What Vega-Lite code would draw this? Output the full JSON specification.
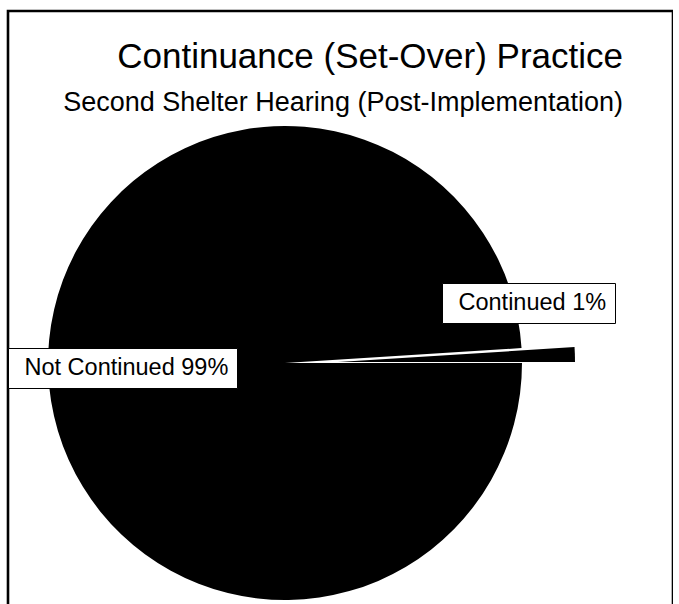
{
  "$schema": "https://vega.github.io/schema/vega-lite/v6.json",
  "width": 665,
  "height": 706,
  "autosize": "none",
  "padding": {"left": 8, "top": 11, "right": 0, "bottom": 0},
  "background": "white",
  "config": {
    "view": {"stroke": null},
    "font": "Liberation Sans",
    "legend": {
      "orient": "none",
      "labelFont": "Liberation Sans",
      "labelFontSize": 23.5,
      "labelColor": "black",
      "labelLimit": 400,
      "symbolSize": 1,
      "symbolOpacity": 0,
      "symbolStrokeWidth": 0,
      "labelOffset": -15,
      "padding": 8,
      "fillColor": "white",
      "strokeColor": "black"
    }
  },
  "title": {
    "text": "Continuance (Set-Over) Practice",
    "subtitle": "Second Shelter Hearing (Post-Implementation)",
    "orient": "top",
    "anchor": "end",
    "frame": "group",
    "offset": -106,
    "dx": -50,
    "font": "Liberation Sans",
    "fontSize": 35,
    "fontWeight": "normal",
    "color": "black",
    "subtitleFont": "Liberation Sans",
    "subtitleFontSize": 27,
    "subtitleColor": "black",
    "subtitlePadding": 15
  },
  "data": {
    "values": [
      {"category": "Continued", "value": 1},
      {"category": "Not Continued", "value": 99}
    ]
  },
  "layer": [
    {
      "data": {"values": [{}]},
      "mark": {"type": "rect", "fill": "white", "fillOpacity": 0, "stroke": "black", "strokeWidth": 2.6},
      "encoding": {}
    },
    {
      "transform": [
        {"stack": "value", "groupby": [], "sort": [{"field": "category", "order": "ascending"}], "as": ["start", "end"]},
        {"calculate": "datum.category + ' ' + datum.value + '%'", "as": "label"},
        {"filter": "datum.category === 'Not Continued'"}
      ],
      "mark": {"type": "arc", "radius": 237, "xOffset": -55.5, "yOffset": -1},
      "encoding": {
        "theta": {"field": "start", "type": "quantitative", "scale": {"domain": [0, 100], "range": [1.50796, 7.79115]}},
        "theta2": {"field": "end"},
        "fill": {
          "field": "label",
          "type": "nominal",
          "scale": {"range": ["black"]},
          "legend": {"title": null, "legendX": 0, "legendY": 337}
        }
      }
    },
    {
      "transform": [
        {"stack": "value", "groupby": [], "sort": [{"field": "category", "order": "ascending"}], "as": ["start", "end"]},
        {"calculate": "datum.category + ' ' + datum.value + '%'", "as": "label"},
        {"filter": "datum.category === 'Continued'"}
      ],
      "mark": {"type": "arc", "radius": 237, "xOffset": -2.5, "yOffset": -2},
      "encoding": {
        "theta": {"field": "start", "type": "quantitative", "scale": {"domain": [0, 100], "range": [1.50796, 7.79115]}},
        "theta2": {"field": "end"},
        "fill": {
          "field": "label",
          "type": "nominal",
          "scale": {"range": ["black"]},
          "legend": {"title": null, "legendX": 434, "legendY": 272}
        }
      }
    }
  ],
  "resolve": {"scale": {"fill": "independent"}, "legend": {"fill": "independent"}}
}
